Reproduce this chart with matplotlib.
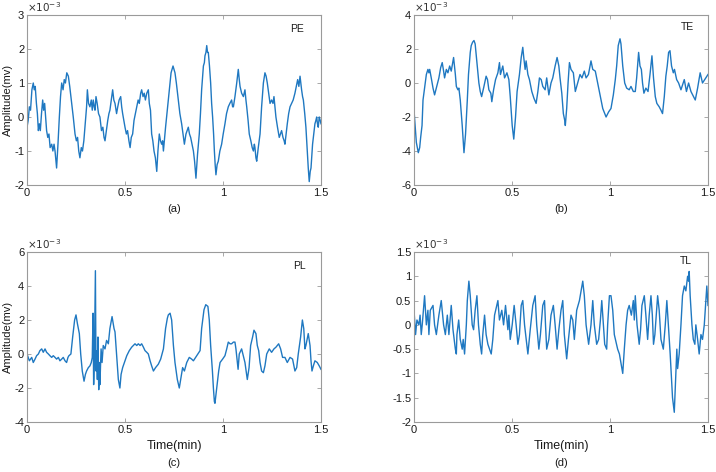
import numpy as np
import matplotlib.pyplot as plt
from matplotlib.ticker import FuncFormatter

# (a) PE  -- time in min, amplitude in 1e-3 mv
t_pe = [0.000, 0.006, 0.012, 0.018, 0.025, 0.032, 0.037, 0.042, 0.048, 0.053, 0.058, 0.063, 0.068, 0.074,
        0.080, 0.085, 0.090, 0.095, 0.100, 0.106, 0.112, 0.118, 0.126, 0.132, 0.138, 0.143, 0.151, 0.158,
        0.165, 0.171, 0.177, 0.184, 0.190, 0.196, 0.203, 0.211, 0.218, 0.228, 0.236, 0.245, 0.252, 0.258,
        0.264, 0.270, 0.277, 0.283, 0.290, 0.297, 0.304, 0.308, 0.314, 0.321, 0.328, 0.333, 0.338, 0.343,
        0.347, 0.352, 0.358, 0.365, 0.372, 0.380, 0.387, 0.393, 0.398, 0.405, 0.412, 0.418, 0.423, 0.430,
        0.437, 0.443, 0.449, 0.457, 0.463, 0.470, 0.478, 0.483, 0.488, 0.494, 0.500, 0.507, 0.513, 0.520,
        0.526, 0.532, 0.539, 0.546, 0.553, 0.560, 0.567, 0.573, 0.580, 0.585, 0.592, 0.598, 0.604, 0.611,
        0.619, 0.624, 0.630, 0.636, 0.642, 0.648, 0.655, 0.662, 0.668, 0.675, 0.681, 0.687, 0.692, 0.696,
        0.702, 0.707, 0.714, 0.721, 0.726, 0.730, 0.735, 0.740, 0.745, 0.750, 0.755, 0.762, 0.772, 0.780,
        0.789, 0.796, 0.803, 0.811, 0.817, 0.823, 0.829, 0.835, 0.842, 0.849, 0.855, 0.862, 0.870, 0.879,
        0.885, 0.891, 0.896, 0.900, 0.905, 0.908, 0.913, 0.917, 0.921, 0.925, 0.931, 0.937, 0.942, 0.947,
        0.952, 0.956, 0.960, 0.964, 0.970, 0.976, 0.984, 0.993, 1.001, 1.010, 1.018, 1.027, 1.035, 1.044,
        1.049, 1.053, 1.061, 1.070, 1.078, 1.083, 1.087, 1.095, 1.104, 1.108, 1.112, 1.117, 1.121, 1.128,
        1.134, 1.142, 1.149, 1.155, 1.160, 1.163, 1.168, 1.172, 1.180, 1.189, 1.197, 1.206, 1.214, 1.220,
        1.226, 1.233, 1.240, 1.248, 1.255, 1.260, 1.265, 1.270, 1.278, 1.287, 1.293, 1.299, 1.306, 1.312,
        1.316, 1.322, 1.328, 1.335, 1.342, 1.350, 1.358, 1.367, 1.374, 1.381, 1.387, 1.393, 1.397, 1.401,
        1.406, 1.410, 1.417, 1.423, 1.430, 1.435, 1.440, 1.445, 1.449, 1.457, 1.463, 1.469, 1.474, 1.478,
        1.482, 1.486, 1.491, 1.496, 1.500]
pe = [-0.3, -0.1, 0.3, 0.2, 0.8, 1.0, 0.8, 0.9, 0.4, 0.1, -0.4, -0.2, -0.4, 0.1,
      0.5, 0.2, 0.4, 0.0, -0.4, -0.6, -0.5, -0.9, -0.8, -1.0, -0.8, -1.0, -1.5, -0.8,
      0.0, 0.6, 1.0, 0.8, 1.1, 1.0, 1.3, 1.2, 0.9, 0.4, 0.0, -0.5, -0.7, -0.6,
      -1.0, -1.2, -0.9, -1.0, -0.7, -0.2, 0.3, 0.8, 0.4, 0.3, 0.5, 0.2, 0.5, 0.3,
      0.2, 0.6, 0.4, 0.1, 0.0, -0.4, -0.3, -0.6, -0.7, -0.4, -0.1, 0.1, 0.2, 0.5,
      0.8, 0.5, 0.4, 0.1, 0.3, 0.5, 0.6, 0.3, 0.1, -0.1, -0.3, -0.5, -0.4, -0.7,
      -0.9, -0.6, -0.5, -0.1, 0.1, 0.3, 0.5, 0.4, 0.7, 0.8, 0.6, 0.7, 0.5, 0.7,
      0.8, 0.4, 0.2, -0.5, -0.7, -1.0, -1.2, -1.6, -1.0, -0.5, -0.7, -0.8, -0.7, -1.0,
      -0.6, -0.3, 0.1, 0.5, 0.8, 1.0, 1.3, 1.4, 1.5, 1.4, 1.3, 1.0, 0.5, 0.1,
      -0.2, -0.5, -0.8, -0.5, -0.4, -0.3, -0.5, -0.6, -0.8, -1.0, -1.3, -1.8, -1.1, -0.5,
      0.1, 0.8, 1.2, 1.5, 1.6, 1.8, 1.9, 2.1, 1.9, 1.9, 1.5, 1.0, 0.4, 0.0,
      -0.5, -1.0, -1.4, -1.7, -1.4, -1.3, -1.0, -0.8, -0.5, -0.2, 0.1, 0.3, 0.4, 0.5,
      0.3, 0.3, 0.6, 1.0, 1.4, 1.1, 0.9, 0.7, 0.6, 0.7, 0.8, 0.5, 0.3, -0.1,
      -0.5, -0.7, -0.9, -1.0, -0.8, -0.9, -1.2, -1.3, -0.9, -0.5, 0.3, 1.0, 1.3, 1.2,
      1.0, 0.7, 0.4, 0.5, 0.4, 0.6, 0.3, 0.0, -0.3, -0.6, -0.5, -0.4, -0.6, -0.7,
      -0.8, -0.5, -0.2, 0.1, 0.3, 0.4, 0.5, 0.7, 0.9, 1.1, 0.9, 1.2, 1.0, 0.8,
      0.6, 0.5, 0.1, -0.3, -1.0, -1.5, -1.9, -1.6, -1.5, -0.8, -0.5, -0.2, -0.1, 0.0,
      -0.2, -0.3, 0.0, -0.1, -0.2]

# (b) TE
t_te = [0.000, 0.012, 0.022, 0.029, 0.034, 0.041, 0.046, 0.054, 0.063, 0.071, 0.076, 0.080, 0.088, 0.097,
        0.105, 0.114, 0.127, 0.136, 0.144, 0.151, 0.156, 0.165, 0.173, 0.182, 0.190, 0.202, 0.211, 0.216,
        0.224, 0.229, 0.236, 0.246, 0.255, 0.263, 0.272, 0.278, 0.287, 0.292, 0.299, 0.306, 0.312, 0.323,
        0.331, 0.338, 0.345, 0.355, 0.368, 0.375, 0.382, 0.392, 0.397, 0.406, 0.416, 0.428, 0.436, 0.441,
        0.453, 0.462, 0.474, 0.484, 0.491, 0.501, 0.509, 0.518, 0.526, 0.538, 0.547, 0.555, 0.560, 0.567,
        0.572, 0.581, 0.589, 0.601, 0.612, 0.623, 0.632, 0.640, 0.649, 0.657, 0.669, 0.677, 0.688, 0.699,
        0.708, 0.720, 0.730, 0.739, 0.745, 0.754, 0.762, 0.769, 0.772, 0.779, 0.786, 0.793, 0.801, 0.813,
        0.823, 0.835, 0.847, 0.857, 0.869, 0.878, 0.890, 0.903, 0.912, 0.925, 0.937, 0.946, 0.963, 0.980,
        0.993, 1.005, 1.017, 1.027, 1.034, 1.042, 1.051, 1.056, 1.065, 1.075, 1.085, 1.098, 1.107, 1.119,
        1.129, 1.136, 1.146, 1.153, 1.160, 1.166, 1.173, 1.183, 1.194, 1.204, 1.214, 1.222, 1.231, 1.239,
        1.251, 1.260, 1.268, 1.277, 1.285, 1.292, 1.299, 1.306, 1.314, 1.323, 1.329, 1.340, 1.350, 1.362,
        1.379, 1.390, 1.401, 1.413, 1.435, 1.447, 1.460, 1.472, 1.489, 1.500]
te = [-1.6, -3.5, -4.1, -3.8, -3.2, -2.5, -1.0, -0.3, 0.5, 0.8, 0.6, 0.8, 0.3, -0.3,
      -0.7, -0.3, 0.3, 0.9, 1.2, 0.7, 0.3, 0.8, 0.6, 1.0, 0.7, 1.5, 0.5, -0.2,
      -0.4, -0.3, -1.0, -2.5, -4.1, -3.0, -1.0, 0.5, 1.8, 2.2, 2.4, 2.5, 2.3, 1.0,
      0.0, -0.5, -0.8, -0.3, 0.4, 0.2, -0.4, -0.6, -1.1, -0.4, 0.2, 0.6, 1.2, 0.5,
      1.0, 0.3, 0.6, 0.2, -0.8, -2.5, -3.3, -2.0, -0.5, 0.5, 1.5, 2.1, 1.5, 0.8,
      1.3, 0.5, 0.2, -0.5, -0.9, -1.2, -0.5, 0.3, 0.2, -0.2, -0.4, 0.3, -0.7, 0.0,
      0.3, 1.0, 1.5, 1.0, 0.3, -0.6, -1.8, -2.2, -2.5, -1.5, 0.0, 1.2, 0.8, 0.6,
      -0.5, 0.0, 0.5, 0.3, 0.7, 0.3, 0.5, 1.3, 0.8, 0.7, 0.0, -0.5, -1.5, -2.0,
      -1.7, -1.5, -0.7, 0.2, 1.0, 2.2, 2.6, 2.3, 1.0, 0.0, -0.3, -0.4, -0.2, -0.5,
      -0.5, 0.3, 1.8, 1.0, 0.8, 0.0, -0.6, -0.3, -0.5, 0.5, 1.6, 0.3, -0.8, -1.2,
      -1.4, -1.6, -1.8, -0.8, 0.4, 1.0, 1.8, 1.9, 1.0, 0.6, 0.8, 0.2, 0.0, -0.4,
      0.2, -0.5, 0.0, -0.5, -1.0, -0.3, 0.6, 0.0, 0.3, 0.5]

# (c) PL
t_pl = [0.000, 0.012, 0.024, 0.032, 0.041, 0.049, 0.058, 0.066, 0.075, 0.083, 0.092, 0.100, 0.109, 0.117,
        0.126, 0.134, 0.143, 0.151, 0.160, 0.168, 0.177, 0.185, 0.194, 0.202, 0.209, 0.214, 0.224, 0.233,
        0.243, 0.250, 0.257, 0.267, 0.274, 0.282, 0.291, 0.298, 0.304, 0.313, 0.321, 0.328, 0.333, 0.337,
        0.340, 0.344, 0.349, 0.352, 0.355, 0.359, 0.362, 0.366, 0.369, 0.372, 0.378, 0.383, 0.389, 0.398,
        0.406, 0.415, 0.423, 0.434, 0.444, 0.449, 0.457, 0.466, 0.474, 0.480, 0.488, 0.497, 0.509, 0.522,
        0.534, 0.551, 0.560, 0.568, 0.577, 0.585, 0.594, 0.602, 0.611, 0.619, 0.628, 0.636, 0.645, 0.656,
        0.670, 0.682, 0.696, 0.707, 0.716, 0.721, 0.730, 0.738, 0.747, 0.755, 0.767, 0.777, 0.784, 0.794,
        0.803, 0.815, 0.828, 0.840, 0.849, 0.866, 0.883, 0.891, 0.903, 0.912, 0.923, 0.930, 0.937, 0.946,
        0.951, 0.956, 0.959, 0.968, 0.978, 0.985, 0.998, 1.010, 1.019, 1.027, 1.036, 1.044, 1.053, 1.061,
        1.066, 1.073, 1.077, 1.083, 1.095, 1.112, 1.124, 1.133, 1.141, 1.151, 1.158, 1.168, 1.175, 1.182,
        1.189, 1.197, 1.206, 1.214, 1.223, 1.236, 1.248, 1.260, 1.270, 1.284, 1.294, 1.304, 1.316, 1.328,
        1.342, 1.355, 1.367, 1.376, 1.384, 1.396, 1.405, 1.412, 1.418, 1.423, 1.435, 1.444, 1.449, 1.454,
        1.461, 1.469, 1.481, 1.491, 1.500]
pl = [0.0, -0.4, -0.2, -0.5, -0.3, -0.1, 0.0, 0.2, 0.3, 0.1, 0.3, 0.1, 0.0, -0.1,
      -0.2, -0.1, -0.2, -0.3, -0.2, -0.4, -0.3, -0.2, -0.4, -0.5, -0.2, -0.1, 0.0, 1.0,
      2.0, 2.3, 1.8, 1.2, 0.0, -1.0, -1.6, -1.2, -1.0, -0.8, -0.7, -0.5, -0.2, 2.4,
      -1.8, 0.0, 4.9, -1.0, 0.2, -1.5, 1.0, -2.1, -0.5, -1.8, 0.3, -0.5, 0.5, 0.3,
      0.8, 0.6, 1.5, 2.2, 1.5, 1.3, 0.0, -1.5, -2.0, -1.2, -0.8, -0.5, -0.1, 0.2,
      0.4, 0.6, 0.5, 0.6, 0.5, 0.6, 0.4, 0.2, 0.1, 0.0, -0.4, -0.7, -1.0, -0.8,
      -0.6, -0.3, 0.3, 1.5, 2.1, 2.3, 2.4, 2.0, 0.5, -0.5, -1.5, -2.0, -1.5, -0.8,
      -1.0, -0.5, -0.2, -0.3, -0.4, -0.1, 0.2, 1.5, 2.6, 2.9, 2.8, 2.0, 0.5, -1.0,
      -2.0, -2.8, -2.9, -2.0, -1.0, -0.5, -0.3, -0.1, 0.3, 0.7, 0.6, 0.6, 0.7, 0.7,
      0.3, -0.5, -0.9, 0.0, 0.3, -0.5, -1.5, -0.8, 0.5, 1.0, 1.4, 1.2, 0.5, 0.2,
      -0.5, -1.0, -1.1, -0.7, 0.0, 0.3, 0.1, 0.3, 0.4, 0.6, 0.3, -0.2, -0.2, -0.5,
      -0.2, -0.3, -1.0, -0.8, 0.0, 1.0, 2.0, 1.5, 0.3, 0.5, 1.2, 0.5, -0.4, -1.0,
      -0.7, -0.4, -0.5, -0.7, -0.9]

# (d) TL
t_tl = [0.000, 0.008, 0.015, 0.025, 0.031, 0.037, 0.042, 0.054, 0.063, 0.071, 0.076, 0.083, 0.097, 0.105,
        0.114, 0.127, 0.139, 0.151, 0.160, 0.170, 0.178, 0.190, 0.199, 0.211, 0.216, 0.219, 0.228, 0.236,
        0.246, 0.251, 0.258, 0.267, 0.272, 0.280, 0.287, 0.297, 0.304, 0.312, 0.321, 0.329, 0.338, 0.345,
        0.351, 0.360, 0.368, 0.377, 0.394, 0.402, 0.411, 0.428, 0.436, 0.448, 0.457, 0.467, 0.479, 0.484,
        0.491, 0.501, 0.511, 0.521, 0.530, 0.538, 0.547, 0.555, 0.564, 0.581, 0.593, 0.606, 0.618, 0.626,
        0.637, 0.645, 0.657, 0.666, 0.671, 0.677, 0.688, 0.699, 0.711, 0.720, 0.730, 0.739, 0.750, 0.759,
        0.767, 0.779, 0.788, 0.801, 0.810, 0.818, 0.830, 0.844, 0.861, 0.869, 0.878, 0.891, 0.903, 0.912,
        0.920, 0.932, 0.942, 0.951, 0.958, 0.963, 0.973, 0.983, 0.988, 0.997, 1.005, 1.014, 1.022, 1.039,
        1.048, 1.065, 1.073, 1.082, 1.090, 1.098, 1.109, 1.119, 1.124, 1.129, 1.138, 1.149, 1.156, 1.163,
        1.175, 1.183, 1.192, 1.200, 1.209, 1.216, 1.222, 1.229, 1.243, 1.251, 1.260, 1.272, 1.282, 1.290,
        1.299, 1.307, 1.319, 1.328, 1.336, 1.341, 1.345, 1.353, 1.362, 1.370, 1.379, 1.387, 1.396, 1.401,
        1.404, 1.409, 1.418, 1.425, 1.433, 1.438, 1.447, 1.455, 1.464, 1.472, 1.481, 1.489, 1.494, 1.500]
tl = [0.3, -0.2, 0.1, 0.0, 0.2, -0.2, 0.0, 0.6, 0.0, 0.3, -0.2, 0.3, 0.4, 0.0,
      -0.2, 0.2, 0.5, 0.0, -0.2, 0.2, -0.2, 0.4, -0.1, -0.5, -0.6, -0.2, 0.1, -0.3,
      -0.5, -0.3, -0.6, 0.0, 0.5, 0.9, 0.6, 0.0, -0.1, 0.3, 0.6, 0.0, -0.4, -0.6,
      -0.2, 0.2, -0.2, -0.4, -0.6, -0.3, 0.2, 0.5, 0.1, 0.3, 0.0, 0.4, -0.1, 0.2,
      -0.3, 0.0, 0.4, 0.0, -0.4, -0.2, 0.4, 0.5, 0.0, -0.6, -0.1, 0.4, 0.6, 0.0,
      -0.5, -0.2, 0.4, 0.5, 0.0, -0.5, -0.3, 0.2, 0.4, 0.0, -0.5, -0.1, 0.3, 0.5,
      -0.2, -0.7, -0.3, 0.2, 0.1, -0.3, 0.3, 0.5, 0.9, 0.6, 0.0, -0.4, 0.0, 0.5,
      0.0, -0.4, -0.3, 0.1, 0.5, 0.2, -0.4, -0.5, 0.0, 0.6, 0.6, 0.3, -0.2, -0.5,
      -0.6, -1.0, -0.5, 0.0, 0.3, 0.4, 0.2, 0.5, 0.1, 0.6, 0.0, -0.4, -0.1, 0.4,
      0.6, 0.2, -0.3, 0.2, 0.6, 0.2, -0.4, -0.2, 0.6, 0.3, -0.3, -0.5, 0.0, 0.5,
      -0.1, -0.6, -1.5, -1.8, -1.0, -0.5, -0.9, -0.6, 0.0, 0.6, 0.8, 0.7, 1.0, 0.9,
      1.1, 0.6, 0.0, -0.3, -0.4, 0.0, -0.3, -0.6, -0.2, -0.3, 0.0, 0.5, 0.8, 0.4]

panels = [
    (t_pe, pe, 'PE', '(a)', (-2, 3), [-2, -1, 0, 1, 2, 3], (0.92, 0.92)),
    (t_te, te, 'TE', '(b)', (-6, 4), [-6, -4, -2, 0, 2, 4], (0.93, 0.93)),
    (t_pl, pl, 'PL', '(c)', (-4, 6), [-4, -2, 0, 2, 4, 6], (0.925, 0.92)),
    (t_tl, tl, 'TL', '(d)', (-2, 1.5), [-2, -1.5, -1, -0.5, 0, 0.5, 1, 1.5], (0.925, 0.945)),
]

plt.rcParams['font.family'] = ['Liberation Sans', 'DejaVu Sans']
plt.rcParams['axes.unicode_minus'] = False

W, H = 716, 472
fig = plt.figure(figsize=(W / 100, H / 100), dpi=100)
boxes = [(27, 15), (414, 15), (27, 252), (414, 252)]
grey = '#9a9a9a'
fmt = FuncFormatter(lambda v, p: '%g' % v)

for i, (t, y, name, tag, ylim, yt, pos) in enumerate(panels):
    x0, y0 = boxes[i]
    ax = fig.add_axes([x0 / W, 1 - (y0 + 170) / H, 294 / W, 170 / H])
    ax.plot(t, y, color='#1f78c1', lw=1.0)
    ax.set_xlim(0, 1.5)
    ax.set_ylim(*ylim)
    ax.set_xticks([0, 0.5, 1, 1.5])
    ax.set_yticks(yt)
    ax.xaxis.set_major_formatter(fmt)
    ax.yaxis.set_major_formatter(fmt)
    ax.tick_params(direction='in', top=True, right=True, length=3, width=0.6,
                   color=grey, labelsize=8, labelcolor='#1a1a1a', pad=2)
    for s in ax.spines.values():
        s.set_color(grey)
        s.set_linewidth(0.8)
    ax.text(0.0, 1.005, r'$\times10^{-3}$', transform=ax.transAxes,
            fontsize=7.5, color='#333333', ha='left', va='bottom')
    ax.text(pos[0], pos[1], name, transform=ax.transAxes, fontsize=7.5,
            color='#1a1a1a', ha='center', va='center')
    if i % 2 == 0:
        ax.set_ylabel('Amplitude(mv)', fontsize=8, color='#1a1a1a')
        ax.yaxis.set_label_coords(-0.047, 0.5)
    if i >= 2:
        ax.text(0.5, -0.14, 'Time(min)', transform=ax.transAxes, fontsize=9,
                color='#1a1a1a', ha='center', va='center')
        ax.text(0.5, -0.24, tag, transform=ax.transAxes, fontsize=8,
                color='#1a1a1a', ha='center', va='center')
    else:
        ax.text(0.5, -0.14, tag, transform=ax.transAxes, fontsize=8,
                color='#1a1a1a', ha='center', va='center')

fig.savefig('out.png', dpi=100)
